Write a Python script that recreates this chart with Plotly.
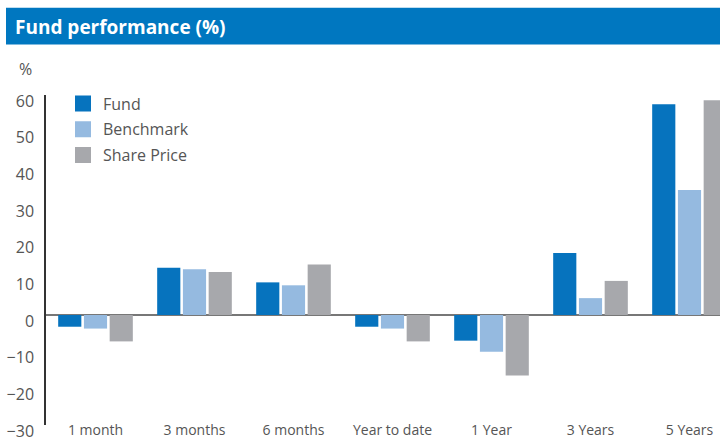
import plotly.graph_objects as go

categories = ["1 month", "3 months", "6 months", "Year to date", "1 Year", "3 Years", "5 Years"]
fund = [-3.2, 12.9, 8.9, -3.2, -7.0, 16.9, 57.5]
benchmark = [-3.7, 12.5, 8.1, -3.7, -10.0, 4.6, 34.1]
share_price = [-7.2, 11.7, 13.8, -7.2, -16.5, 9.3, 58.6]
series_names = ["Fund", "Benchmark", "Share Price"]
colors = ["#0673BE", "#95BAE0", "#A7A8AC"]
y_ticks = [-30, -20, -10, 0, 10, 20, 30, 40, 50, 60]

W, H = 720, 437
L, R, T, B = 46, 0, 94.5, 12
pw, ph = W - L - R, H - T - B

def px_x(x):
    return (x - L) / pw

def px_y(y):
    return (H - B - y) / ph

FONT = "Open Sans, Lato, sans-serif"
TXT = "#555555"

fig = go.Figure()
for i, (name, vals, col) in enumerate(zip(series_names, [fund, benchmark, share_price], colors)):
    fig.add_trace(go.Bar(x=categories, y=vals, name=name, marker=dict(color=col, line=dict(width=0)),
                         showlegend=False, legendgroup="g%d" % i))
    fig.add_trace(go.Scatter(x=[None], y=[None], mode="markers", name=name, legendgroup="g%d" % i,
                             marker=dict(symbol="square", size=16, color=col)))

fig.update_layout(
    width=W, height=H,
    margin=dict(l=L, r=R, t=T, b=B, autoexpand=False),
    paper_bgcolor="white", plot_bgcolor="white",
    barmode="group", bargap=0.22, bargroupgap=0.1,
    font=dict(family=FONT, color=TXT, size=14),
    legend=dict(x=px_x(63), y=px_y(86), xanchor="left", yanchor="top",
                font=dict(size=16, color=TXT), bgcolor="rgba(0,0,0,0)",
                itemwidth=30, tracegroupgap=2),
    xaxis=dict(range=[-0.5, -0.5 + (W - L) / 99.0], showgrid=False, showline=False,
               zeroline=False, ticks="", tickfont=dict(size=14, color=TXT), automargin=False,
               ticklabelstandoff=-5, fixedrange=True),
    yaxis=dict(range=[-30, 60], tickvals=y_ticks, showgrid=False, showline=True,
               linecolor="#333333", linewidth=1.5, zeroline=True, zerolinecolor="#777777",
               zerolinewidth=2, ticks="", tickfont=dict(size=16, color=TXT),
               ticklabelstandoff=7, ticklabelshift=6, ticklabeloverflow="allow",
               automargin=False),
    shapes=[dict(type="rect", xref="paper", yref="paper", x0=px_x(6), x1=px_x(W + 5),
                 y0=px_y(44), y1=px_y(7), fillcolor="#0077C0", line=dict(width=0), layer="above")],
    annotations=[
        dict(text="<b>Fund performance (%)</b>", xref="paper", yref="paper", x=px_x(13), y=px_y(26),
             xanchor="left", yanchor="middle", showarrow=False,
             font=dict(size=19, color="white", family=FONT)),
        dict(text="%", xref="paper", yref="paper", x=px_x(17), y=px_y(68),
             xanchor="left", yanchor="middle", showarrow=False,
             font=dict(size=16, color=TXT, family=FONT)),
    ],
)

fig.write_html("out.html")
